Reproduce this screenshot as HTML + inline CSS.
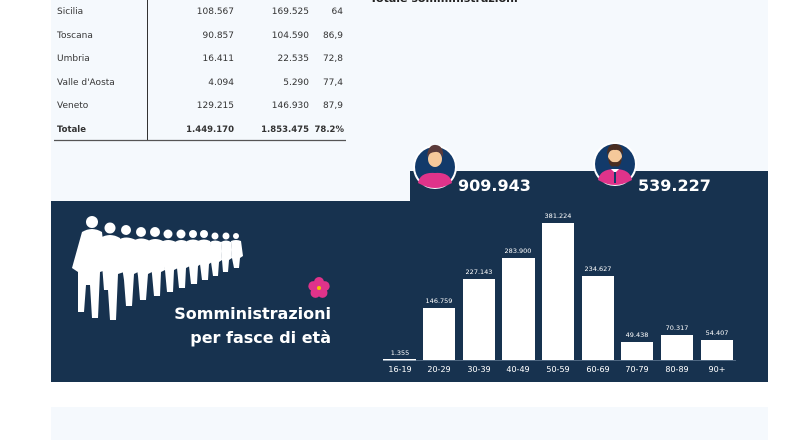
<!DOCTYPE html>
<html><head><meta charset="utf-8"><style>
html,body{margin:0;padding:0;background:#fff;}
svg{display:block;font-family:"DejaVu Sans","Liberation Sans",sans-serif;}
</style></head><body>
<svg width="800" height="440" viewBox="0 0 800 440" xmlns="http://www.w3.org/2000/svg">
<rect x="51" y="0" width="717" height="201" fill="#f5f9fd"/>
<rect x="51" y="407" width="717" height="33" fill="#f5f9fd"/>
<text x="370" y="2" font-size="11" font-weight="bold" fill="#222">Totale somministrazioni</text>
<g font-size="9" fill="#333">
<text x="57" y="14">Sicilia</text><text x="234" y="14" text-anchor="end">108.567</text><text x="309" y="14" text-anchor="end">169.525</text><text x="343" y="14" text-anchor="end">64</text>
<text x="57" y="38">Toscana</text><text x="234" y="38" text-anchor="end">90.857</text><text x="309" y="38" text-anchor="end">104.590</text><text x="343" y="38" text-anchor="end">86,9</text>
<text x="57" y="61">Umbria</text><text x="234" y="61" text-anchor="end">16.411</text><text x="309" y="61" text-anchor="end">22.535</text><text x="343" y="61" text-anchor="end">72,8</text>
<text x="57" y="85">Valle d'Aosta</text><text x="234" y="85" text-anchor="end">4.094</text><text x="309" y="85" text-anchor="end">5.290</text><text x="343" y="85" text-anchor="end">77,4</text>
<text x="57" y="108">Veneto</text><text x="234" y="108" text-anchor="end">129.215</text><text x="309" y="108" text-anchor="end">146.930</text><text x="343" y="108" text-anchor="end">87,9</text>
<g font-weight="bold" font-size="8.5"><text x="57" y="132">Totale</text><text x="234" y="132" text-anchor="end">1.449.170</text><text x="309" y="132" text-anchor="end">1.853.475</text><text x="344" y="132" text-anchor="end">78.2%</text></g>
</g>
<line x1="147.5" y1="0" x2="147.5" y2="140" stroke="#333" stroke-width="1"/>
<line x1="54" y1="140.5" x2="346" y2="140.5" stroke="#555" stroke-width="1.2"/>
<path d="M51 201 H410 V171 H768 V382 H51 Z" fill="#17324f"/>
<g>
<circle cx="435" cy="167" r="22" fill="#fff"/><circle cx="435" cy="167" r="20" fill="#123a6a"/>
<path d="M418 183 Q420 172 435 173 Q450 172 452 183 Q443 188 435 188 Q427 188 418 183Z" fill="#e0338a"/>
<ellipse cx="435" cy="159" rx="7" ry="8" fill="#f5c89a"/>
<path d="M427 157 Q428 144 436 145 Q444 146 443 157 Q440 151 435 152 Q430 152 427 157Z" fill="#5a3a3a"/>
<circle cx="615" cy="164" r="22" fill="#fff"/><circle cx="615" cy="164" r="20" fill="#123a6a"/>
<path d="M598 180 Q600 169 615 169 Q630 169 632 180 Q623 185 615 185 Q607 185 598 180Z" fill="#e0338a"/>
<path d="M611 169 L615 173 L619 169 Z" fill="#fff"/><rect x="614" y="172" width="2" height="11" fill="#123a6a"/>
<ellipse cx="615" cy="157" rx="7" ry="8" fill="#f5c89a"/>
<path d="M608 157 Q609 169 615 166 Q621 169 622 157 Q619 163 615 162 Q611 163 608 157Z" fill="#4a2e22"/>
<path d="M607 155 Q607 144 615 144 Q623 144 623 155 Q620 149 615 150 Q610 149 607 155Z" fill="#4a2e22"/>
</g>
<g font-size="16" font-weight="bold" fill="#fff">
<text x="458" y="191">909.943</text><text x="638" y="191">539.227</text>
</g>
<g fill="#fff">
<!-- front figures -->
<circle cx="92" cy="222" r="6"/><path d="M82 232 Q92 226 102 232 L106 270 L100 272 L98 318 L92 318 L90 285 L86 285 L84 312 L78 312 L78 272 L72 268 Z"/>
<circle cx="110" cy="228" r="5.5"/><path d="M100 238 Q110 232 120 238 L124 272 L118 274 L116 320 L110 320 L108 290 L104 290 Z"/>
<circle cx="126" cy="230" r="5"/><path d="M118 240 Q126 235 136 240 L138 272 L134 274 L132 306 L126 306 L124 280 Z"/>
<circle cx="141" cy="232" r="5"/><path d="M133 241 Q141 236 150 241 L152 272 L148 274 L146 300 L140 300 L138 276 Z"/>
<circle cx="155" cy="232" r="5"/><path d="M148 241 Q155 237 163 241 L165 270 L161 272 L160 296 L154 296 L152 274 Z"/>
<circle cx="168" cy="234" r="4.5"/><path d="M161 242 Q168 238 176 242 L178 268 L174 270 L173 292 L167 292 L165 270 Z"/>
<circle cx="181" cy="234" r="4.5"/><path d="M175 242 Q181 238 188 242 L190 266 L186 268 L185 288 L179 288 L177 268 Z"/>
<circle cx="193" cy="234" r="4"/><path d="M187 241 Q193 238 199 241 L201 264 L198 266 L197 284 L191 284 L189 266 Z"/>
<circle cx="204" cy="234" r="4"/><path d="M198 241 Q204 238 210 241 L212 262 L209 264 L208 280 L202 280 L200 264 Z"/>
<circle cx="215" cy="236" r="3.5"/><path d="M210 242 Q215 239 221 242 L222 260 L219 262 L218 276 L213 276 L211 262 Z"/>
<circle cx="226" cy="236" r="3.5"/><path d="M221 242 Q226 239 231 242 L232 258 L229 260 L228 272 L223 272 L222 260 Z"/>
<circle cx="236" cy="236" r="3"/><path d="M231 241 Q236 239 241 241 L243 256 L240 258 L239 268 L234 268 L232 258 Z"/>
</g>
<g transform="translate(319,288)">
<circle cx="0" cy="-6" r="5" fill="#e0338a"/><circle cx="5.7" cy="-1.9" r="5" fill="#e0338a"/><circle cx="3.5" cy="4.9" r="5" fill="#e0338a"/><circle cx="-3.5" cy="4.9" r="5" fill="#e0338a"/><circle cx="-5.7" cy="-1.9" r="5" fill="#e0338a"/><circle r="2" fill="#f5c400"/>
</g>
<g font-size="16" font-weight="bold" fill="#fff" text-anchor="end">
<text x="331" y="319">Somministrazioni</text><text x="331" y="343">per fasce di età</text>
</g>
<g fill="#fff">
<rect x="383" y="359" width="33" height="1.5"/>
<rect x="423" y="308" width="32" height="52"/>
<rect x="463" y="279" width="32" height="81"/>
<rect x="502" y="258" width="33" height="102"/>
<rect x="542" y="223" width="32" height="137"/>
<rect x="582" y="276" width="32" height="84"/>
<rect x="621" y="342" width="32" height="18"/>
<rect x="661" y="335" width="32" height="25"/>
<rect x="701" y="340" width="32" height="20"/>
</g>
<line x1="383" y1="360.5" x2="736" y2="360.5" stroke="#8aa0b8" stroke-width="0.6"/>
<g font-size="6.5" fill="#fff" text-anchor="middle">
<text x="400" y="355">1.355</text><text x="439" y="303">146.759</text><text x="479" y="274">227.143</text><text x="518" y="253">283.900</text><text x="558" y="218">381.224</text><text x="598" y="271">234.627</text><text x="637" y="337">49.438</text><text x="677" y="330">70.317</text><text x="717" y="335">54.407</text>
</g>
<g font-size="8" fill="#fff" text-anchor="middle">
<text x="400" y="372">16-19</text><text x="439" y="372">20-29</text><text x="479" y="372">30-39</text><text x="518" y="372">40-49</text><text x="558" y="372">50-59</text><text x="598" y="372">60-69</text><text x="637" y="372">70-79</text><text x="677" y="372">80-89</text><text x="717" y="372">90+</text>
</g>
</svg>
</body></html>
